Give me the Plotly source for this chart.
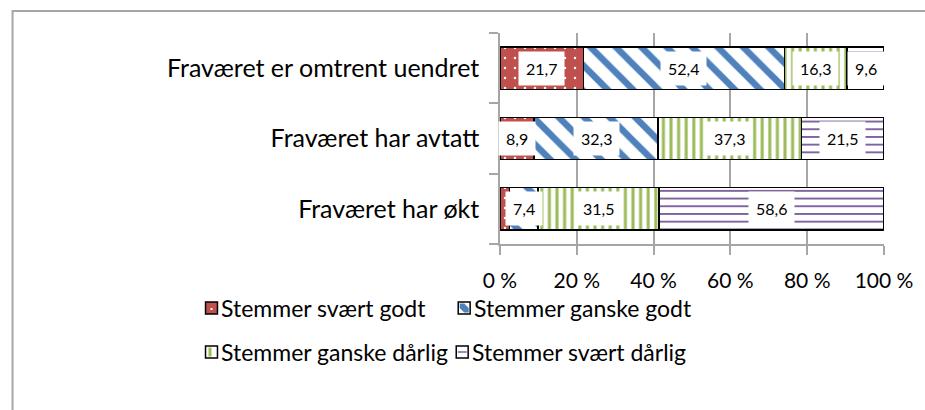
import plotly.graph_objects as go

# ---- data -------------------------------------------------------------
categories = ["Fraværet er omtrent uendret", "Fraværet har avtatt", "Fraværet har økt"]
series_names = ["Stemmer svært godt", "Stemmer ganske godt",
                "Stemmer ganske dårlig", "Stemmer svært dårlig"]
svart_godt = [21.7, 8.9, 2.5]
ganske_godt = [52.4, 32.3, 7.4]
ganske_darlig = [16.3, 37.3, 31.5]
svart_darlig = [9.6, 21.5, 58.6]
tick_values = [0, 20, 40, 60, 80, 100]
tick_labels = ["0 %", "20 %", "40 %", "60 %", "80 %", "100 %"]

series_values = [svart_godt, ganske_godt, ganske_darlig, svart_darlig]

# ---- styling ----------------------------------------------------------
RED, BLUE, GREEN, PURPLE = "#C0504D", "#4F81BD", "#9BBB59", "#8064A2"
GRAY = "#A6A6A6"
FONT = "Lato"

patterns = [
    dict(shape=".", fgcolor="white", bgcolor=RED, size=10, solidity=0.05, fillmode="replace"),
    dict(shape="\\", fgcolor=BLUE, bgcolor="white", size=18, solidity=0.36, fillmode="replace"),
    dict(shape="|", fgcolor=GREEN, bgcolor="white", size=7.6, solidity=0.4, fillmode="replace"),
    dict(shape="-", fgcolor=PURPLE, bgcolor="white", size=7.7, solidity=0.25, fillmode="replace"),
]
colors = [RED, BLUE, GREEN, PURPLE]

# plot area in pixels
W, H = 925, 410
L, R, T, B = 500, 886, 33, 244


def px(x):
    return (x - L) / (R - L)


def py(y):
    return (B - y) / (B - T)


fig = go.Figure()

for name, vals, pat, col in zip(series_names, series_values, patterns, colors):
    fig.add_trace(go.Bar(
        name=name, y=categories, x=vals, orientation="h",
        marker=dict(color=col, pattern=pat, line=dict(color="black", width=1.5)),
        showlegend=False, hoverinfo="x+y+name",
    ))

# value labels in white boxes at the middle of each segment
annotations = []
for ci, cat in enumerate(categories):
    cum = 0.0
    for vals in series_values:
        v = vals[ci]
        if v >= 5:
            annotations.append(dict(
                x=cum + v / 2, y=cat, xref="x", yref="y",
                text=f"{v:.1f}".replace(".", ","), showarrow=False,
                font=dict(family=FONT, size=16, color="black"),
                bgcolor="white", borderpad=7,
            ))
        cum += v

shapes = []
# outer chart frame
shapes.append(dict(type="rect", xref="paper", yref="paper",
                   x0=px(10), x1=px(940), y0=py(11), y1=py(430),
                   line=dict(color=GRAY, width=2), fillcolor="rgba(0,0,0,0)", layer="below"))

# legend: symbols and labels
legend_items = [
    (series_names[0], 204, 308),
    (series_names[1], 458, 308),
    (series_names[2], 204, 352),
    (series_names[3], 456, 352),
]
S = 12
for i, (name, x0, yc) in enumerate(legend_items):
    y0 = yc - S / 2
    fill = RED if i == 0 else "white"
    shapes.append(dict(type="rect", xref="paper", yref="paper",
                       x0=px(x0), x1=px(x0 + S), y0=py(y0), y1=py(y0 + S),
                       fillcolor=fill, line=dict(color="black", width=1.5)))
    if i == 0:
        shapes.append(dict(type="rect", xref="paper", yref="paper",
                           x0=px(x0 + 5), x1=px(x0 + 7), y0=py(y0 + 6), y1=py(y0 + 8),
                           fillcolor="white", line=dict(width=0)))
    elif i == 1:
        p = [(x0 + 1.5, y0 + 1.5), (x0 + 6, y0 + 1.5), (x0 + 10.5, y0 + 6),
             (x0 + 10.5, y0 + 10.5), (x0 + 6, y0 + 10.5), (x0 + 1.5, y0 + 6)]
        path = "M " + " L ".join(f"{px(a)},{py(b)}" for a, b in p) + " Z"
        shapes.append(dict(type="path", xref="paper", yref="paper", path=path,
                           fillcolor=BLUE, line=dict(width=0)))
    elif i == 2:
        shapes.append(dict(type="rect", xref="paper", yref="paper",
                           x0=px(x0 + 3), x1=px(x0 + 6), y0=py(y0 + 1.5), y1=py(y0 + 10.5),
                           fillcolor=GREEN, line=dict(width=0)))
    else:
        shapes.append(dict(type="line", xref="paper", yref="paper",
                           x0=px(x0 + 1.5), x1=px(x0 + 10.5), y0=py(yc), y1=py(yc),
                           line=dict(color=PURPLE, width=1.5)))
    annotations.append(dict(x=px(x0 + S + 2), y=py(yc), xref="paper", yref="paper",
                            xanchor="left", yanchor="middle", text=name, showarrow=False,
                            font=dict(family=FONT, size=23, color="black")))

fig.update_layout(
    width=W, height=H,
    margin=dict(l=L, r=W - R, t=T, b=H - B, pad=0),
    barmode="stack", bargap=0.4,
    plot_bgcolor="white", paper_bgcolor="white",
    font=dict(family=FONT, size=20, color="black"),
    showlegend=False,
    annotations=annotations, shapes=shapes,
)
fig.update_xaxes(
    range=[0, 100], tickvals=tick_values, ticktext=tick_labels,
    showgrid=True, gridcolor=GRAY, gridwidth=1.5,
    showline=True, linecolor=GRAY, linewidth=1.5,
    ticks="outside", ticklen=9, tickcolor=GRAY, tickwidth=1.5,
    zeroline=False, ticklabelstandoff=8,
    tickfont=dict(family=FONT, size=21, color="black"),
)
fig.update_yaxes(
    categoryorder="array", categoryarray=categories[::-1],
    showline=True, linecolor=GRAY, linewidth=1.5,
    ticks="outside", ticklen=9, tickcolor=GRAY, tickwidth=1.5,
    tickson="boundaries", showgrid=False, zeroline=False,
    ticklabelstandoff=14,
    tickfont=dict(family=FONT, size=25, color="black"),
)

fig.write_html("out.html")
